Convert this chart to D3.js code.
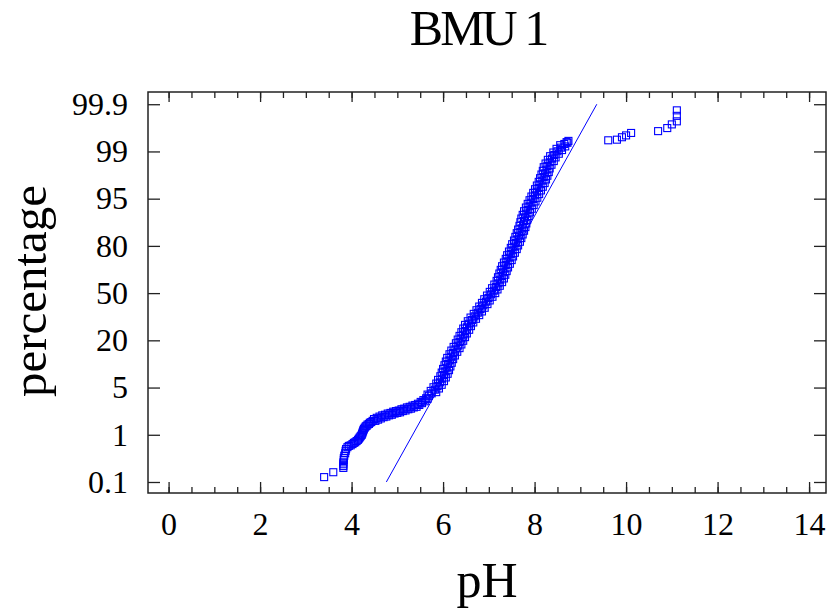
<!DOCTYPE html>
<html><head><meta charset="utf-8">
<script src="https://cdn.jsdelivr.net/npm/d3@7"></script>
<style>body{margin:0;background:#fff}svg{display:block}</style></head>
<body><svg id="c" width="827" height="611"></svg>
<script>
const titleText = "BMU 1";
const xLabel = "pH";
const yLabel = "percentage";
const xTickValues = [0, 2, 4, 6, 8, 10, 12, 14];
const xMinorValues = [0,0.5,1,1.5,2,2.5,3,3.5,4,4.5,5,5.5,6,6.5,7,7.5,8,8.5,9,9.5,10,10.5,11,11.5,12,12.5,13,13.5,14];
const yTickLabels = ["0.1", "1", "5", "20", "50", "80", "95", "99", "99.9"];
const yTickScores = [-3.09, -2.3175, -1.545, -0.7725, 0, 0.7725, 1.545, 2.3175, 3.09];

// lower tail (pH, normal score)
const tailPH = [3.40,3.60,3.82,3.82,3.82,3.82,3.83,3.83,3.84,3.86,3.87,3.88,3.91,3.94,3.98,4.02,4.05,4.08,4.11,4.14,4.16,4.18,4.20,4.22,4.23,4.24,4.25,4.26,4.27,4.29,4.31,4.33,4.35,4.38,4.40,4.43,4.46,
  4.49,4.52,4.55,4.58,4.61,4.64,4.67,4.70,4.73,4.76,4.79,4.82,4.85,4.88,4.91,4.94,4.97,5.00,5.03,5.06,5.09,5.12,5.15,5.18,5.21,5.24,5.27,5.30,5.33,5.36,5.39,5.42,5.45,5.48,5.51,5.54,5.57,5.60,5.63,5.66,5.69];
const tailScore = [-3.01,-2.93,-2.86,-2.83,-2.80,-2.77,-2.73,-2.70,-2.66,-2.62,-2.58,-2.55,-2.52,-2.50,-2.49,-2.47,-2.45,-2.44,-2.42,-2.40,-2.38,-2.36,-2.34,-2.32,-2.30,-2.28,-2.26,-2.24,-2.22,-2.20,-2.18,-2.17,-2.15,-2.14,-2.12,-2.11,-2.09,
  -2.06,-2.09,-2.04,-2.07,-2.02,-2.05,-2.00,-2.03,-1.99,-2.02,-1.97,-2.00,-1.96,-1.99,-1.94,-1.97,-1.93,-1.96,-1.92,-1.95,-1.90,-1.93,-1.89,-1.92,-1.87,-1.90,-1.86,-1.89,-1.84,-1.87,-1.83,-1.86,-1.81,-1.83,-1.78,-1.80,-1.75,-1.77,-1.72,-1.73,-1.68];

// main body (pH, normal score)
const bodyPH = [
  5.66,5.75,5.85, 5.73,5.82,5.91, 5.79,5.88,5.97, 5.85,5.93,6.02, 5.89,5.98,6.06, 5.94,6.02,6.10,
  5.97,6.05,6.13, 6.00,6.08,6.16, 6.03,6.11,6.19, 6.06,6.14,6.22, 6.09,6.18,6.26, 6.14,6.22,6.31,
  6.18,6.27,6.36, 6.23,6.32,6.40, 6.28,6.36,6.44, 6.32,6.40,6.48, 6.36,6.44,6.52, 6.40,6.48,6.57,
  6.44,6.52,6.61, 6.48,6.57,6.66, 6.54,6.63,6.72, 6.60,6.69,6.79, 6.67,6.76,6.85, 6.73,6.82,6.91,
  6.79,6.88,6.97, 6.85,6.94,7.02, 6.90,6.99,7.08, 6.96,7.05,7.14, 7.02,7.11,7.19, 7.07,7.16,7.24,
  7.12,7.21,7.29, 7.17,7.25,7.33, 7.20,7.28,7.36, 7.23,7.31,7.39, 7.26,7.34,7.42, 7.29,7.37,7.46,
  7.33,7.41,7.50, 7.37,7.45,7.53, 7.40,7.48,7.57, 7.44,7.52,7.61, 7.48,7.56,7.64, 7.51,7.59,7.68,
  7.55,7.63,7.71, 7.58,7.66,7.74, 7.61,7.69,7.77, 7.64,7.72,7.80, 7.67,7.75,7.82, 7.69,7.77,7.84,
  7.71,7.79,7.87, 7.74,7.82,7.90, 7.77,7.85,7.94, 7.81,7.89,7.98, 7.85,7.93,8.02, 7.89,7.97,8.06,
  7.93,8.01,8.10, 7.97,8.05,8.14, 8.01,8.09,8.18, 8.05,8.13,8.22, 8.09,8.17,8.25, 8.12,8.20,8.28,
  8.15,8.23,8.31, 8.18,8.26,8.33, 8.20,8.28,8.37, 8.24,8.33,8.42, 8.29,8.38,8.46, 8.34,8.43,8.53,
  8.41,8.50,8.60, 8.48,8.58,8.67, 8.56,8.65,8.72, 8.70,8.74];
const bodyScore = [
  -1.66,-1.64,-1.62, -1.60,-1.58,-1.56, -1.54,-1.52,-1.50, -1.48,-1.46,-1.44, -1.42,-1.40,-1.38, -1.36,-1.34,-1.32,
  -1.30,-1.28,-1.26, -1.24,-1.22,-1.20, -1.18,-1.16,-1.14, -1.12,-1.10,-1.08, -1.06,-1.04,-1.02, -1.00,-0.98,-0.96,
  -0.94,-0.92,-0.90, -0.88,-0.86,-0.84, -0.82,-0.80,-0.78, -0.76,-0.74,-0.72, -0.70,-0.68,-0.66, -0.64,-0.62,-0.60,
  -0.58,-0.56,-0.54, -0.52,-0.50,-0.48, -0.46,-0.44,-0.42, -0.40,-0.38,-0.36, -0.34,-0.32,-0.30, -0.28,-0.26,-0.24,
  -0.22,-0.20,-0.18, -0.16,-0.14,-0.12, -0.10,-0.08,-0.06, -0.04,-0.02,0.00, 0.02,0.04,0.06, 0.08,0.10,0.12,
  0.14,0.16,0.18, 0.20,0.22,0.24, 0.26,0.28,0.30, 0.32,0.34,0.36, 0.38,0.40,0.42, 0.44,0.46,0.48,
  0.50,0.52,0.54, 0.56,0.58,0.60, 0.62,0.64,0.66, 0.68,0.70,0.72, 0.74,0.76,0.78, 0.80,0.82,0.84,
  0.86,0.88,0.90, 0.92,0.94,0.96, 0.98,1.00,1.02, 1.04,1.06,1.08, 1.10,1.12,1.14, 1.16,1.18,1.20,
  1.22,1.24,1.26, 1.28,1.30,1.32, 1.34,1.36,1.38, 1.40,1.42,1.44, 1.46,1.48,1.50, 1.52,1.54,1.56,
  1.58,1.60,1.62, 1.64,1.66,1.68, 1.70,1.72,1.74, 1.76,1.78,1.80, 1.82,1.84,1.86, 1.88,1.90,1.92,
  1.94,1.96,1.98, 2.00,2.02,2.04, 2.06,2.08,2.10, 2.12,2.14,2.16, 2.18,2.20,2.22, 2.24,2.26,2.28,
  2.30,2.32,2.34, 2.36,2.38,2.40, 2.42,2.44,2.46, 2.47,2.49];

// upper outliers
const highPH = [9.61,9.80,9.91,10.00,10.11,10.70,10.90,11.00,11.11,11.11,11.11];
const highScore = [2.50,2.51,2.55,2.58,2.62,2.65,2.70,2.76,2.81,2.90,2.99];

// fitted normal line end points
const fitPH = [4.76, 9.36];
const fitScore = [-3.09, 3.09];

const svg = d3.select("#c");
const L = 148, R = 826, T = 92, B = 493;
const x = d3.scaleLinear().domain([-0.45, 14.37]).range([L, R]);
const y = d3.scaleLinear().domain([-3.27, 3.29]).range([B, T]);
const FONT = "'Liberation Serif', 'Times New Roman', serif";
const axisCol = "#222";

const pts = [];
[[tailPH, tailScore], [bodyPH, bodyScore], [highPH, highScore]].forEach(([a, b]) => a.forEach((v, i) => pts.push([v, b[i]])));

svg.append("clipPath").attr("id", "pc").append("rect")
  .attr("x", L).attr("y", T).attr("width", R - L).attr("height", B - T);
const plot = svg.append("g").attr("clip-path", "url(#pc)");

plot.selectAll("rect.pt").data(pts).join("rect").attr("class", "pt")
  .attr("x", d => x(d[0]) - 3.5).attr("y", d => y(d[1]) - 3.5)
  .attr("width", 7).attr("height", 7)
  .attr("fill", "none").attr("stroke", "#0000ff").attr("stroke-width", 1.1);

plot.append("path").datum(fitPH.map((v, i) => [v, fitScore[i]]))
  .attr("d", d3.line().x(d => x(d[0])).y(d => y(d[1])))
  .attr("fill", "none").attr("stroke", "#0000ff").attr("stroke-width", 1);

function styleAxis(g) {
  g.select(".domain").remove();
  g.selectAll(".tick line").attr("stroke", axisCol).attr("stroke-width", 1.3);
  g.selectAll(".tick text").attr("font-family", FONT).attr("font-size", 32).attr("fill", "#000");
}

// bottom axis
svg.append("g").attr("transform", `translate(0,${B})`)
  .call(d3.axisBottom(x).tickValues(xMinorValues).tickSize(-6).tickFormat(""))
  .call(styleAxis);
svg.append("g").attr("transform", `translate(0,${B})`)
  .call(d3.axisBottom(x).tickValues(xTickValues).tickSize(-11).tickPadding(19).tickFormat(d3.format("d")))
  .call(styleAxis);
// top axis
svg.append("g").attr("transform", `translate(0,${T})`)
  .call(d3.axisTop(x).tickValues(xMinorValues).tickSize(-6).tickFormat(""))
  .call(styleAxis);
svg.append("g").attr("transform", `translate(0,${T})`)
  .call(d3.axisTop(x).tickValues(xTickValues).tickSize(-10).tickFormat(""))
  .call(styleAxis);
// left axis
svg.append("g").attr("transform", `translate(${L},0)`)
  .call(d3.axisLeft(y).tickValues(yTickScores).tickSize(-12).tickPadding(20)
    .tickFormat((d, i) => yTickLabels[i]))
  .call(styleAxis);
// right axis
svg.append("g").attr("transform", `translate(${R},0)`)
  .call(d3.axisRight(y).tickValues(yTickScores).tickSize(-12).tickFormat(""))
  .call(styleAxis);

// frame
svg.append("rect").attr("x", L).attr("y", T).attr("width", R - L).attr("height", B - T)
  .attr("fill", "none").attr("stroke", axisCol).attr("stroke-width", 1.5);

// texts
svg.append("text").attr("x", 478).attr("y", 45).attr("text-anchor", "middle")
  .attr("font-family", FONT).attr("font-size", 50).attr("letter-spacing", -3).text(titleText);
svg.append("text").attr("x", 487).attr("y", 597).attr("text-anchor", "middle")
  .attr("font-family", FONT).attr("font-size", 50).text(xLabel);
svg.append("text").attr("transform", "translate(46,291) rotate(-90)").attr("text-anchor", "middle")
  .attr("font-family", FONT).attr("font-size", 49).text(yLabel);
</script></body></html>
